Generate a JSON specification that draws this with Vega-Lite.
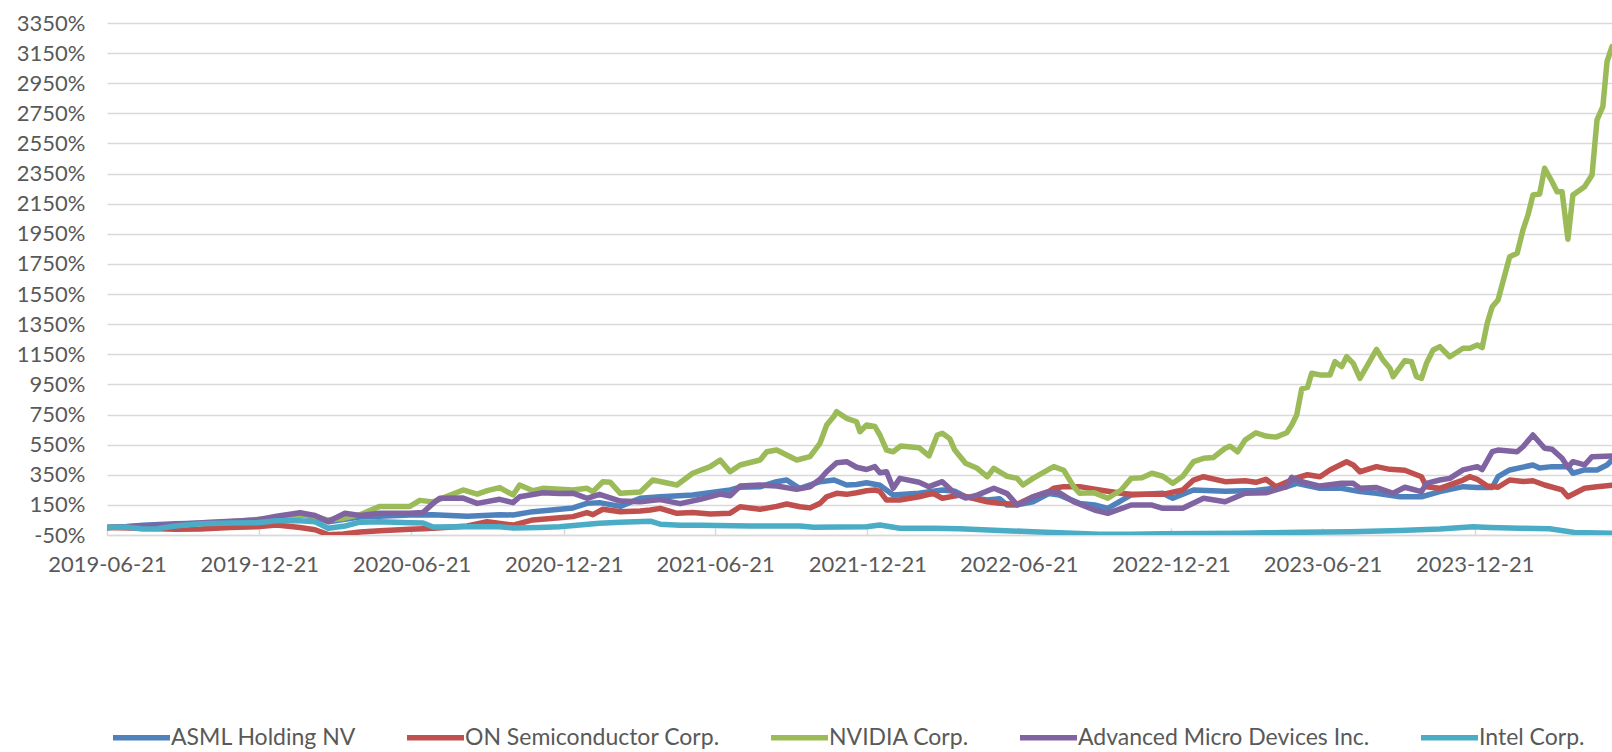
{
"$schema":"https://vega.github.io/schema/vega-lite/v6.json",
"width":1505,"height":512,
"autosize":{"type":"none"},
"padding":{"left":107,"top":23,"right":0,"bottom":217},
"background":"white",
"config":{"view":{"stroke":null},"font":"Lato"},
"data":{"values":[
{"date":"2019-06-21","series":"ASML Holding NV","value":0},
{"date":"2019-07-13","series":"ASML Holding NV","value":5},
{"date":"2019-08-03","series":"ASML Holding NV","value":15},
{"date":"2019-09-11","series":"ASML Holding NV","value":25},
{"date":"2019-10-23","series":"ASML Holding NV","value":30},
{"date":"2019-12-01","series":"ASML Holding NV","value":35},
{"date":"2020-01-11","series":"ASML Holding NV","value":60},
{"date":"2020-02-08","series":"ASML Holding NV","value":85},
{"date":"2020-02-26","series":"ASML Holding NV","value":70},
{"date":"2020-03-13","series":"ASML Holding NV","value":38},
{"date":"2020-04-02","series":"ASML Holding NV","value":55},
{"date":"2020-04-20","series":"ASML Holding NV","value":70},
{"date":"2020-06-19","series":"ASML Holding NV","value":83},
{"date":"2020-07-17","series":"ASML Holding NV","value":85},
{"date":"2020-08-27","series":"ASML Holding NV","value":75},
{"date":"2020-10-05","series":"ASML Holding NV","value":85},
{"date":"2020-10-21","series":"ASML Holding NV","value":83},
{"date":"2020-11-14","series":"ASML Holding NV","value":105},
{"date":"2021-01-01","series":"ASML Holding NV","value":130},
{"date":"2021-01-18","series":"ASML Holding NV","value":160},
{"date":"2021-02-02","series":"ASML Holding NV","value":165},
{"date":"2021-02-27","series":"ASML Holding NV","value":140},
{"date":"2021-03-23","series":"ASML Holding NV","value":194},
{"date":"2021-04-16","series":"ASML Holding NV","value":204},
{"date":"2021-05-25","series":"ASML Holding NV","value":216},
{"date":"2021-07-09","series":"ASML Holding NV","value":249},
{"date":"2021-07-21","series":"ASML Holding NV","value":267},
{"date":"2021-08-14","series":"ASML Holding NV","value":270},
{"date":"2021-09-03","series":"ASML Holding NV","value":304},
{"date":"2021-09-15","series":"ASML Holding NV","value":315},
{"date":"2021-09-27","series":"ASML Holding NV","value":271},
{"date":"2021-10-01","series":"ASML Holding NV","value":260},
{"date":"2021-10-25","series":"ASML Holding NV","value":304},
{"date":"2021-11-11","series":"ASML Holding NV","value":315},
{"date":"2021-11-26","series":"ASML Holding NV","value":282},
{"date":"2021-12-08","series":"ASML Holding NV","value":285},
{"date":"2021-12-20","series":"ASML Holding NV","value":297},
{"date":"2022-01-05","series":"ASML Holding NV","value":280},
{"date":"2022-01-21","series":"ASML Holding NV","value":216},
{"date":"2022-02-21","series":"ASML Holding NV","value":227},
{"date":"2022-03-21","series":"ASML Holding NV","value":249},
{"date":"2022-04-05","series":"ASML Holding NV","value":240},
{"date":"2022-04-18","series":"ASML Holding NV","value":204},
{"date":"2022-05-14","series":"ASML Holding NV","value":182},
{"date":"2022-05-29","series":"ASML Holding NV","value":190},
{"date":"2022-06-07","series":"ASML Holding NV","value":149},
{"date":"2022-06-19","series":"ASML Holding NV","value":150},
{"date":"2022-07-08","series":"ASML Holding NV","value":171},
{"date":"2022-07-27","series":"ASML Holding NV","value":225},
{"date":"2022-08-09","series":"ASML Holding NV","value":215},
{"date":"2022-09-02","series":"ASML Holding NV","value":160},
{"date":"2022-09-20","series":"ASML Holding NV","value":150},
{"date":"2022-10-06","series":"ASML Holding NV","value":127},
{"date":"2022-11-03","series":"ASML Holding NV","value":216},
{"date":"2022-12-11","series":"ASML Holding NV","value":227},
{"date":"2022-12-23","series":"ASML Holding NV","value":194},
{"date":"2023-01-17","series":"ASML Holding NV","value":249},
{"date":"2023-02-24","series":"ASML Holding NV","value":240},
{"date":"2023-04-02","series":"ASML Holding NV","value":245},
{"date":"2023-05-09","series":"ASML Holding NV","value":271},
{"date":"2023-05-21","series":"ASML Holding NV","value":293},
{"date":"2023-06-18","series":"ASML Holding NV","value":260},
{"date":"2023-07-14","series":"ASML Holding NV","value":260},
{"date":"2023-08-05","series":"ASML Holding NV","value":238},
{"date":"2023-08-25","series":"ASML Holding NV","value":227},
{"date":"2023-09-22","series":"ASML Holding NV","value":204},
{"date":"2023-10-18","series":"ASML Holding NV","value":204},
{"date":"2023-11-09","series":"ASML Holding NV","value":238},
{"date":"2023-12-07","series":"ASML Holding NV","value":271},
{"date":"2023-12-24","series":"ASML Holding NV","value":265},
{"date":"2024-01-11","series":"ASML Holding NV","value":265},
{"date":"2024-01-18","series":"ASML Holding NV","value":337},
{"date":"2024-02-01","series":"ASML Holding NV","value":382},
{"date":"2024-02-29","series":"ASML Holding NV","value":415},
{"date":"2024-03-08","series":"ASML Holding NV","value":395},
{"date":"2024-03-23","series":"ASML Holding NV","value":404},
{"date":"2024-04-11","series":"ASML Holding NV","value":404},
{"date":"2024-04-17","series":"ASML Holding NV","value":360},
{"date":"2024-05-01","series":"ASML Holding NV","value":382},
{"date":"2024-05-16","series":"ASML Holding NV","value":382},
{"date":"2024-05-28","series":"ASML Holding NV","value":415},
{"date":"2024-06-03","series":"ASML Holding NV","value":448},
{"date":"2019-06-21","series":"ON Semiconductor Corp.","value":0},
{"date":"2019-08-03","series":"ON Semiconductor Corp.","value":-5},
{"date":"2019-09-11","series":"ON Semiconductor Corp.","value":-12},
{"date":"2019-10-11","series":"ON Semiconductor Corp.","value":-10},
{"date":"2019-11-16","series":"ON Semiconductor Corp.","value":0},
{"date":"2019-12-18","series":"ON Semiconductor Corp.","value":5},
{"date":"2020-01-11","series":"ON Semiconductor Corp.","value":16},
{"date":"2020-02-08","series":"ON Semiconductor Corp.","value":0},
{"date":"2020-02-26","series":"ON Semiconductor Corp.","value":-15},
{"date":"2020-03-13","series":"ON Semiconductor Corp.","value":-48},
{"date":"2020-03-31","series":"ON Semiconductor Corp.","value":-43},
{"date":"2020-04-20","series":"ON Semiconductor Corp.","value":-30},
{"date":"2020-05-14","series":"ON Semiconductor Corp.","value":-21},
{"date":"2020-06-19","series":"ON Semiconductor Corp.","value":-12},
{"date":"2020-07-05","series":"ON Semiconductor Corp.","value":-8},
{"date":"2020-07-17","series":"ON Semiconductor Corp.","value":-5},
{"date":"2020-08-27","series":"ON Semiconductor Corp.","value":10},
{"date":"2020-09-20","series":"ON Semiconductor Corp.","value":38},
{"date":"2020-10-21","series":"ON Semiconductor Corp.","value":16},
{"date":"2020-11-14","series":"ON Semiconductor Corp.","value":50},
{"date":"2020-12-16","series":"ON Semiconductor Corp.","value":65},
{"date":"2021-01-01","series":"ON Semiconductor Corp.","value":72},
{"date":"2021-01-18","series":"ON Semiconductor Corp.","value":98},
{"date":"2021-01-25","series":"ON Semiconductor Corp.","value":85},
{"date":"2021-02-06","series":"ON Semiconductor Corp.","value":121},
{"date":"2021-02-27","series":"ON Semiconductor Corp.","value":105},
{"date":"2021-03-23","series":"ON Semiconductor Corp.","value":110},
{"date":"2021-04-04","series":"ON Semiconductor Corp.","value":116},
{"date":"2021-04-16","series":"ON Semiconductor Corp.","value":127},
{"date":"2021-05-06","series":"ON Semiconductor Corp.","value":94},
{"date":"2021-05-25","series":"ON Semiconductor Corp.","value":100},
{"date":"2021-06-15","series":"ON Semiconductor Corp.","value":89},
{"date":"2021-07-09","series":"ON Semiconductor Corp.","value":95},
{"date":"2021-07-21","series":"ON Semiconductor Corp.","value":138},
{"date":"2021-08-14","series":"ON Semiconductor Corp.","value":121},
{"date":"2021-09-03","series":"ON Semiconductor Corp.","value":140},
{"date":"2021-09-15","series":"ON Semiconductor Corp.","value":156},
{"date":"2021-10-01","series":"ON Semiconductor Corp.","value":138},
{"date":"2021-10-13","series":"ON Semiconductor Corp.","value":130},
{"date":"2021-10-25","series":"ON Semiconductor Corp.","value":160},
{"date":"2021-11-02","series":"ON Semiconductor Corp.","value":204},
{"date":"2021-11-14","series":"ON Semiconductor Corp.","value":227},
{"date":"2021-11-26","series":"ON Semiconductor Corp.","value":220},
{"date":"2021-12-08","series":"ON Semiconductor Corp.","value":231},
{"date":"2021-12-20","series":"ON Semiconductor Corp.","value":244},
{"date":"2021-12-30","series":"ON Semiconductor Corp.","value":249},
{"date":"2022-01-05","series":"ON Semiconductor Corp.","value":240},
{"date":"2022-01-13","series":"ON Semiconductor Corp.","value":182},
{"date":"2022-01-29","series":"ON Semiconductor Corp.","value":182},
{"date":"2022-02-21","series":"ON Semiconductor Corp.","value":204},
{"date":"2022-03-10","series":"ON Semiconductor Corp.","value":227},
{"date":"2022-03-21","series":"ON Semiconductor Corp.","value":194},
{"date":"2022-04-11","series":"ON Semiconductor Corp.","value":215},
{"date":"2022-04-18","series":"ON Semiconductor Corp.","value":205},
{"date":"2022-05-14","series":"ON Semiconductor Corp.","value":171},
{"date":"2022-05-29","series":"ON Semiconductor Corp.","value":160},
{"date":"2022-06-19","series":"ON Semiconductor Corp.","value":155},
{"date":"2022-07-08","series":"ON Semiconductor Corp.","value":204},
{"date":"2022-07-27","series":"ON Semiconductor Corp.","value":238},
{"date":"2022-08-02","series":"ON Semiconductor Corp.","value":260},
{"date":"2022-08-14","series":"ON Semiconductor Corp.","value":271},
{"date":"2022-09-02","series":"ON Semiconductor Corp.","value":271},
{"date":"2022-09-26","series":"ON Semiconductor Corp.","value":249},
{"date":"2022-10-22","series":"ON Semiconductor Corp.","value":227},
{"date":"2022-11-03","series":"ON Semiconductor Corp.","value":220},
{"date":"2022-12-11","series":"ON Semiconductor Corp.","value":220},
{"date":"2023-01-04","series":"ON Semiconductor Corp.","value":249},
{"date":"2023-01-17","series":"ON Semiconductor Corp.","value":315},
{"date":"2023-01-29","series":"ON Semiconductor Corp.","value":337},
{"date":"2023-02-24","series":"ON Semiconductor Corp.","value":304},
{"date":"2023-03-20","series":"ON Semiconductor Corp.","value":310},
{"date":"2023-04-02","series":"ON Semiconductor Corp.","value":300},
{"date":"2023-04-14","series":"ON Semiconductor Corp.","value":320},
{"date":"2023-04-26","series":"ON Semiconductor Corp.","value":271},
{"date":"2023-05-21","series":"ON Semiconductor Corp.","value":330},
{"date":"2023-06-03","series":"ON Semiconductor Corp.","value":350},
{"date":"2023-06-18","series":"ON Semiconductor Corp.","value":337},
{"date":"2023-06-30","series":"ON Semiconductor Corp.","value":382},
{"date":"2023-07-20","series":"ON Semiconductor Corp.","value":437},
{"date":"2023-07-28","series":"ON Semiconductor Corp.","value":415},
{"date":"2023-08-05","series":"ON Semiconductor Corp.","value":370},
{"date":"2023-08-25","series":"ON Semiconductor Corp.","value":404},
{"date":"2023-09-10","series":"ON Semiconductor Corp.","value":386},
{"date":"2023-09-28","series":"ON Semiconductor Corp.","value":380},
{"date":"2023-10-18","series":"ON Semiconductor Corp.","value":337},
{"date":"2023-10-24","series":"ON Semiconductor Corp.","value":271},
{"date":"2023-11-09","series":"ON Semiconductor Corp.","value":260},
{"date":"2023-12-07","series":"ON Semiconductor Corp.","value":315},
{"date":"2023-12-15","series":"ON Semiconductor Corp.","value":337},
{"date":"2023-12-24","series":"ON Semiconductor Corp.","value":320},
{"date":"2024-01-05","series":"ON Semiconductor Corp.","value":275},
{"date":"2024-01-18","series":"ON Semiconductor Corp.","value":267},
{"date":"2024-02-01","series":"ON Semiconductor Corp.","value":315},
{"date":"2024-02-17","series":"ON Semiconductor Corp.","value":305},
{"date":"2024-02-29","series":"ON Semiconductor Corp.","value":310},
{"date":"2024-03-14","series":"ON Semiconductor Corp.","value":282},
{"date":"2024-04-04","series":"ON Semiconductor Corp.","value":249},
{"date":"2024-04-11","series":"ON Semiconductor Corp.","value":204},
{"date":"2024-05-01","series":"ON Semiconductor Corp.","value":260},
{"date":"2024-05-16","series":"ON Semiconductor Corp.","value":271},
{"date":"2024-06-03","series":"ON Semiconductor Corp.","value":280},
{"date":"2019-06-21","series":"NVIDIA Corp.","value":0},
{"date":"2019-08-03","series":"NVIDIA Corp.","value":5},
{"date":"2019-09-11","series":"NVIDIA Corp.","value":15},
{"date":"2019-10-23","series":"NVIDIA Corp.","value":30},
{"date":"2019-12-01","series":"NVIDIA Corp.","value":45},
{"date":"2020-01-11","series":"NVIDIA Corp.","value":65},
{"date":"2020-02-08","series":"NVIDIA Corp.","value":85},
{"date":"2020-02-26","series":"NVIDIA Corp.","value":75},
{"date":"2020-03-11","series":"NVIDIA Corp.","value":50},
{"date":"2020-03-31","series":"NVIDIA Corp.","value":60},
{"date":"2020-04-20","series":"NVIDIA Corp.","value":85},
{"date":"2020-05-14","series":"NVIDIA Corp.","value":140},
{"date":"2020-06-19","series":"NVIDIA Corp.","value":140},
{"date":"2020-07-01","series":"NVIDIA Corp.","value":180},
{"date":"2020-07-17","series":"NVIDIA Corp.","value":170},
{"date":"2020-08-22","series":"NVIDIA Corp.","value":249},
{"date":"2020-09-08","series":"NVIDIA Corp.","value":222},
{"date":"2020-09-20","series":"NVIDIA Corp.","value":245},
{"date":"2020-10-05","series":"NVIDIA Corp.","value":265},
{"date":"2020-10-21","series":"NVIDIA Corp.","value":216},
{"date":"2020-10-29","series":"NVIDIA Corp.","value":282},
{"date":"2020-11-14","series":"NVIDIA Corp.","value":244},
{"date":"2020-11-26","series":"NVIDIA Corp.","value":260},
{"date":"2021-01-01","series":"NVIDIA Corp.","value":249},
{"date":"2021-01-18","series":"NVIDIA Corp.","value":260},
{"date":"2021-01-25","series":"NVIDIA Corp.","value":238},
{"date":"2021-02-06","series":"NVIDIA Corp.","value":304},
{"date":"2021-02-15","series":"NVIDIA Corp.","value":300},
{"date":"2021-02-27","series":"NVIDIA Corp.","value":227},
{"date":"2021-03-23","series":"NVIDIA Corp.","value":235},
{"date":"2021-04-07","series":"NVIDIA Corp.","value":315},
{"date":"2021-05-06","series":"NVIDIA Corp.","value":282},
{"date":"2021-05-25","series":"NVIDIA Corp.","value":360},
{"date":"2021-06-15","series":"NVIDIA Corp.","value":404},
{"date":"2021-06-27","series":"NVIDIA Corp.","value":448},
{"date":"2021-07-09","series":"NVIDIA Corp.","value":370},
{"date":"2021-07-21","series":"NVIDIA Corp.","value":415},
{"date":"2021-08-14","series":"NVIDIA Corp.","value":448},
{"date":"2021-08-22","series":"NVIDIA Corp.","value":503},
{"date":"2021-09-03","series":"NVIDIA Corp.","value":514},
{"date":"2021-09-15","series":"NVIDIA Corp.","value":481},
{"date":"2021-09-27","series":"NVIDIA Corp.","value":448},
{"date":"2021-10-13","series":"NVIDIA Corp.","value":470},
{"date":"2021-10-25","series":"NVIDIA Corp.","value":559},
{"date":"2021-11-02","series":"NVIDIA Corp.","value":680},
{"date":"2021-11-11","series":"NVIDIA Corp.","value":740},
{"date":"2021-11-14","series":"NVIDIA Corp.","value":769},
{"date":"2021-11-26","series":"NVIDIA Corp.","value":725},
{"date":"2021-12-08","series":"NVIDIA Corp.","value":702},
{"date":"2021-12-12","series":"NVIDIA Corp.","value":636},
{"date":"2021-12-20","series":"NVIDIA Corp.","value":680},
{"date":"2021-12-30","series":"NVIDIA Corp.","value":670},
{"date":"2022-01-05","series":"NVIDIA Corp.","value":614},
{"date":"2022-01-13","series":"NVIDIA Corp.","value":514},
{"date":"2022-01-21","series":"NVIDIA Corp.","value":503},
{"date":"2022-01-30","series":"NVIDIA Corp.","value":541},
{"date":"2022-02-21","series":"NVIDIA Corp.","value":530},
{"date":"2022-03-05","series":"NVIDIA Corp.","value":475},
{"date":"2022-03-15","series":"NVIDIA Corp.","value":614},
{"date":"2022-03-21","series":"NVIDIA Corp.","value":625},
{"date":"2022-03-30","series":"NVIDIA Corp.","value":590},
{"date":"2022-04-05","series":"NVIDIA Corp.","value":514},
{"date":"2022-04-18","series":"NVIDIA Corp.","value":426},
{"date":"2022-05-02","series":"NVIDIA Corp.","value":393},
{"date":"2022-05-14","series":"NVIDIA Corp.","value":337},
{"date":"2022-05-22","series":"NVIDIA Corp.","value":393},
{"date":"2022-06-07","series":"NVIDIA Corp.","value":340},
{"date":"2022-06-19","series":"NVIDIA Corp.","value":326},
{"date":"2022-06-26","series":"NVIDIA Corp.","value":282},
{"date":"2022-07-08","series":"NVIDIA Corp.","value":326},
{"date":"2022-07-27","series":"NVIDIA Corp.","value":386},
{"date":"2022-08-02","series":"NVIDIA Corp.","value":404},
{"date":"2022-08-14","series":"NVIDIA Corp.","value":380},
{"date":"2022-08-26","series":"NVIDIA Corp.","value":271},
{"date":"2022-09-02","series":"NVIDIA Corp.","value":227},
{"date":"2022-09-20","series":"NVIDIA Corp.","value":230},
{"date":"2022-10-06","series":"NVIDIA Corp.","value":194},
{"date":"2022-10-22","series":"NVIDIA Corp.","value":249},
{"date":"2022-11-03","series":"NVIDIA Corp.","value":326},
{"date":"2022-11-16","series":"NVIDIA Corp.","value":330},
{"date":"2022-11-28","series":"NVIDIA Corp.","value":360},
{"date":"2022-12-11","series":"NVIDIA Corp.","value":340},
{"date":"2022-12-23","series":"NVIDIA Corp.","value":293},
{"date":"2023-01-04","series":"NVIDIA Corp.","value":340},
{"date":"2023-01-17","series":"NVIDIA Corp.","value":437},
{"date":"2023-01-29","series":"NVIDIA Corp.","value":459},
{"date":"2023-02-10","series":"NVIDIA Corp.","value":465},
{"date":"2023-02-24","series":"NVIDIA Corp.","value":526},
{"date":"2023-03-02","series":"NVIDIA Corp.","value":540},
{"date":"2023-03-11","series":"NVIDIA Corp.","value":503},
{"date":"2023-03-20","series":"NVIDIA Corp.","value":581},
{"date":"2023-04-02","series":"NVIDIA Corp.","value":629},
{"date":"2023-04-14","series":"NVIDIA Corp.","value":607},
{"date":"2023-04-26","series":"NVIDIA Corp.","value":600},
{"date":"2023-05-09","series":"NVIDIA Corp.","value":629},
{"date":"2023-05-15","series":"NVIDIA Corp.","value":680},
{"date":"2023-05-21","series":"NVIDIA Corp.","value":747},
{"date":"2023-05-27","series":"NVIDIA Corp.","value":920},
{"date":"2023-06-03","series":"NVIDIA Corp.","value":930},
{"date":"2023-06-08","series":"NVIDIA Corp.","value":1024},
{"date":"2023-06-18","series":"NVIDIA Corp.","value":1013},
{"date":"2023-06-30","series":"NVIDIA Corp.","value":1013},
{"date":"2023-07-06","series":"NVIDIA Corp.","value":1101},
{"date":"2023-07-14","series":"NVIDIA Corp.","value":1068},
{"date":"2023-07-20","series":"NVIDIA Corp.","value":1134},
{"date":"2023-07-28","series":"NVIDIA Corp.","value":1090},
{"date":"2023-08-05","series":"NVIDIA Corp.","value":990},
{"date":"2023-08-25","series":"NVIDIA Corp.","value":1183},
{"date":"2023-09-02","series":"NVIDIA Corp.","value":1110},
{"date":"2023-09-10","series":"NVIDIA Corp.","value":1057},
{"date":"2023-09-14","series":"NVIDIA Corp.","value":1001},
{"date":"2023-09-28","series":"NVIDIA Corp.","value":1108},
{"date":"2023-10-06","series":"NVIDIA Corp.","value":1100},
{"date":"2023-10-12","series":"NVIDIA Corp.","value":1001},
{"date":"2023-10-18","series":"NVIDIA Corp.","value":990},
{"date":"2023-10-24","series":"NVIDIA Corp.","value":1090},
{"date":"2023-11-01","series":"NVIDIA Corp.","value":1179},
{"date":"2023-11-09","series":"NVIDIA Corp.","value":1201},
{"date":"2023-11-21","series":"NVIDIA Corp.","value":1134},
{"date":"2023-12-07","series":"NVIDIA Corp.","value":1190},
{"date":"2023-12-15","series":"NVIDIA Corp.","value":1190},
{"date":"2023-12-24","series":"NVIDIA Corp.","value":1212},
{"date":"2023-12-30","series":"NVIDIA Corp.","value":1195},
{"date":"2024-01-05","series":"NVIDIA Corp.","value":1356},
{"date":"2024-01-11","series":"NVIDIA Corp.","value":1466},
{"date":"2024-01-18","series":"NVIDIA Corp.","value":1511},
{"date":"2024-02-01","series":"NVIDIA Corp.","value":1798},
{"date":"2024-02-10","series":"NVIDIA Corp.","value":1821},
{"date":"2024-02-17","series":"NVIDIA Corp.","value":1976},
{"date":"2024-02-23","series":"NVIDIA Corp.","value":2075},
{"date":"2024-02-29","series":"NVIDIA Corp.","value":2208},
{"date":"2024-03-08","series":"NVIDIA Corp.","value":2215},
{"date":"2024-03-14","series":"NVIDIA Corp.","value":2385},
{"date":"2024-03-23","series":"NVIDIA Corp.","value":2296},
{"date":"2024-03-29","series":"NVIDIA Corp.","value":2230},
{"date":"2024-04-04","series":"NVIDIA Corp.","value":2230},
{"date":"2024-04-11","series":"NVIDIA Corp.","value":1914},
{"date":"2024-04-17","series":"NVIDIA Corp.","value":2208},
{"date":"2024-05-01","series":"NVIDIA Corp.","value":2263},
{"date":"2024-05-10","series":"NVIDIA Corp.","value":2341},
{"date":"2024-05-16","series":"NVIDIA Corp.","value":2706},
{"date":"2024-05-23","series":"NVIDIA Corp.","value":2794},
{"date":"2024-05-28","series":"NVIDIA Corp.","value":3093},
{"date":"2024-06-03","series":"NVIDIA Corp.","value":3193},
{"date":"2019-06-21","series":"Advanced Micro Devices Inc.","value":0},
{"date":"2019-08-03","series":"Advanced Micro Devices Inc.","value":10},
{"date":"2019-09-11","series":"Advanced Micro Devices Inc.","value":20},
{"date":"2019-10-23","series":"Advanced Micro Devices Inc.","value":35},
{"date":"2019-12-01","series":"Advanced Micro Devices Inc.","value":45},
{"date":"2019-12-18","series":"Advanced Micro Devices Inc.","value":50},
{"date":"2020-01-11","series":"Advanced Micro Devices Inc.","value":75},
{"date":"2020-02-08","series":"Advanced Micro Devices Inc.","value":98},
{"date":"2020-02-26","series":"Advanced Micro Devices Inc.","value":80},
{"date":"2020-03-13","series":"Advanced Micro Devices Inc.","value":40},
{"date":"2020-04-02","series":"Advanced Micro Devices Inc.","value":94},
{"date":"2020-04-20","series":"Advanced Micro Devices Inc.","value":80},
{"date":"2020-05-14","series":"Advanced Micro Devices Inc.","value":95},
{"date":"2020-06-19","series":"Advanced Micro Devices Inc.","value":95},
{"date":"2020-07-05","series":"Advanced Micro Devices Inc.","value":100},
{"date":"2020-07-17","series":"Advanced Micro Devices Inc.","value":160},
{"date":"2020-07-25","series":"Advanced Micro Devices Inc.","value":194},
{"date":"2020-08-22","series":"Advanced Micro Devices Inc.","value":195},
{"date":"2020-09-08","series":"Advanced Micro Devices Inc.","value":160},
{"date":"2020-10-05","series":"Advanced Micro Devices Inc.","value":187},
{"date":"2020-10-21","series":"Advanced Micro Devices Inc.","value":165},
{"date":"2020-10-29","series":"Advanced Micro Devices Inc.","value":204},
{"date":"2020-11-26","series":"Advanced Micro Devices Inc.","value":231},
{"date":"2020-12-16","series":"Advanced Micro Devices Inc.","value":225},
{"date":"2021-01-01","series":"Advanced Micro Devices Inc.","value":228},
{"date":"2021-01-18","series":"Advanced Micro Devices Inc.","value":194},
{"date":"2021-02-02","series":"Advanced Micro Devices Inc.","value":220},
{"date":"2021-02-27","series":"Advanced Micro Devices Inc.","value":175},
{"date":"2021-03-23","series":"Advanced Micro Devices Inc.","value":170},
{"date":"2021-04-16","series":"Advanced Micro Devices Inc.","value":185},
{"date":"2021-05-10","series":"Advanced Micro Devices Inc.","value":158},
{"date":"2021-06-03","series":"Advanced Micro Devices Inc.","value":187},
{"date":"2021-06-27","series":"Advanced Micro Devices Inc.","value":222},
{"date":"2021-07-09","series":"Advanced Micro Devices Inc.","value":210},
{"date":"2021-07-21","series":"Advanced Micro Devices Inc.","value":275},
{"date":"2021-08-14","series":"Advanced Micro Devices Inc.","value":282},
{"date":"2021-09-03","series":"Advanced Micro Devices Inc.","value":275},
{"date":"2021-09-27","series":"Advanced Micro Devices Inc.","value":253},
{"date":"2021-10-13","series":"Advanced Micro Devices Inc.","value":270},
{"date":"2021-10-25","series":"Advanced Micro Devices Inc.","value":320},
{"date":"2021-11-02","series":"Advanced Micro Devices Inc.","value":370},
{"date":"2021-11-14","series":"Advanced Micro Devices Inc.","value":430},
{"date":"2021-11-26","series":"Advanced Micro Devices Inc.","value":437},
{"date":"2021-12-08","series":"Advanced Micro Devices Inc.","value":400},
{"date":"2021-12-20","series":"Advanced Micro Devices Inc.","value":385},
{"date":"2021-12-30","series":"Advanced Micro Devices Inc.","value":404},
{"date":"2022-01-05","series":"Advanced Micro Devices Inc.","value":364},
{"date":"2022-01-13","series":"Advanced Micro Devices Inc.","value":370},
{"date":"2022-01-21","series":"Advanced Micro Devices Inc.","value":260},
{"date":"2022-01-29","series":"Advanced Micro Devices Inc.","value":326},
{"date":"2022-02-21","series":"Advanced Micro Devices Inc.","value":300},
{"date":"2022-03-05","series":"Advanced Micro Devices Inc.","value":271},
{"date":"2022-03-21","series":"Advanced Micro Devices Inc.","value":304},
{"date":"2022-04-05","series":"Advanced Micro Devices Inc.","value":227},
{"date":"2022-04-18","series":"Advanced Micro Devices Inc.","value":195},
{"date":"2022-05-02","series":"Advanced Micro Devices Inc.","value":215},
{"date":"2022-05-22","series":"Advanced Micro Devices Inc.","value":260},
{"date":"2022-06-07","series":"Advanced Micro Devices Inc.","value":225},
{"date":"2022-06-19","series":"Advanced Micro Devices Inc.","value":149},
{"date":"2022-06-26","series":"Advanced Micro Devices Inc.","value":165},
{"date":"2022-07-08","series":"Advanced Micro Devices Inc.","value":204},
{"date":"2022-07-27","series":"Advanced Micro Devices Inc.","value":238},
{"date":"2022-08-09","series":"Advanced Micro Devices Inc.","value":230},
{"date":"2022-08-26","series":"Advanced Micro Devices Inc.","value":171},
{"date":"2022-09-20","series":"Advanced Micro Devices Inc.","value":116},
{"date":"2022-10-06","series":"Advanced Micro Devices Inc.","value":94},
{"date":"2022-11-03","series":"Advanced Micro Devices Inc.","value":149},
{"date":"2022-11-28","series":"Advanced Micro Devices Inc.","value":149},
{"date":"2022-12-11","series":"Advanced Micro Devices Inc.","value":127},
{"date":"2023-01-04","series":"Advanced Micro Devices Inc.","value":127},
{"date":"2023-01-29","series":"Advanced Micro Devices Inc.","value":194},
{"date":"2023-02-24","series":"Advanced Micro Devices Inc.","value":171},
{"date":"2023-03-20","series":"Advanced Micro Devices Inc.","value":227},
{"date":"2023-04-14","series":"Advanced Micro Devices Inc.","value":230},
{"date":"2023-05-09","series":"Advanced Micro Devices Inc.","value":271},
{"date":"2023-05-15","series":"Advanced Micro Devices Inc.","value":333},
{"date":"2023-05-27","series":"Advanced Micro Devices Inc.","value":304},
{"date":"2023-06-18","series":"Advanced Micro Devices Inc.","value":275},
{"date":"2023-07-14","series":"Advanced Micro Devices Inc.","value":293},
{"date":"2023-07-28","series":"Advanced Micro Devices Inc.","value":293},
{"date":"2023-08-05","series":"Advanced Micro Devices Inc.","value":260},
{"date":"2023-08-25","series":"Advanced Micro Devices Inc.","value":265},
{"date":"2023-09-14","series":"Advanced Micro Devices Inc.","value":227},
{"date":"2023-09-28","series":"Advanced Micro Devices Inc.","value":267},
{"date":"2023-10-18","series":"Advanced Micro Devices Inc.","value":238},
{"date":"2023-10-24","series":"Advanced Micro Devices Inc.","value":293},
{"date":"2023-11-09","series":"Advanced Micro Devices Inc.","value":315},
{"date":"2023-11-21","series":"Advanced Micro Devices Inc.","value":326},
{"date":"2023-12-07","series":"Advanced Micro Devices Inc.","value":382},
{"date":"2023-12-24","series":"Advanced Micro Devices Inc.","value":404},
{"date":"2023-12-30","series":"Advanced Micro Devices Inc.","value":385},
{"date":"2024-01-11","series":"Advanced Micro Devices Inc.","value":503},
{"date":"2024-01-18","series":"Advanced Micro Devices Inc.","value":514},
{"date":"2024-02-10","series":"Advanced Micro Devices Inc.","value":503},
{"date":"2024-02-17","series":"Advanced Micro Devices Inc.","value":536},
{"date":"2024-02-29","series":"Advanced Micro Devices Inc.","value":614},
{"date":"2024-03-14","series":"Advanced Micro Devices Inc.","value":526},
{"date":"2024-03-23","series":"Advanced Micro Devices Inc.","value":520},
{"date":"2024-04-04","series":"Advanced Micro Devices Inc.","value":459},
{"date":"2024-04-11","series":"Advanced Micro Devices Inc.","value":400},
{"date":"2024-04-17","series":"Advanced Micro Devices Inc.","value":437},
{"date":"2024-05-01","series":"Advanced Micro Devices Inc.","value":415},
{"date":"2024-05-10","series":"Advanced Micro Devices Inc.","value":470},
{"date":"2024-06-03","series":"Advanced Micro Devices Inc.","value":475},
{"date":"2019-06-21","series":"Intel Corp.","value":0},
{"date":"2019-07-13","series":"Intel Corp.","value":3},
{"date":"2019-08-03","series":"Intel Corp.","value":-10},
{"date":"2019-08-20","series":"Intel Corp.","value":-8},
{"date":"2019-09-11","series":"Intel Corp.","value":10},
{"date":"2019-10-11","series":"Intel Corp.","value":25},
{"date":"2019-11-16","series":"Intel Corp.","value":30},
{"date":"2019-12-18","series":"Intel Corp.","value":32},
{"date":"2020-01-11","series":"Intel Corp.","value":45},
{"date":"2020-02-08","series":"Intel Corp.","value":45},
{"date":"2020-02-26","series":"Intel Corp.","value":38},
{"date":"2020-03-13","series":"Intel Corp.","value":-5},
{"date":"2020-04-02","series":"Intel Corp.","value":10},
{"date":"2020-04-20","series":"Intel Corp.","value":35},
{"date":"2020-05-14","series":"Intel Corp.","value":38},
{"date":"2020-06-19","series":"Intel Corp.","value":32},
{"date":"2020-07-05","series":"Intel Corp.","value":30},
{"date":"2020-07-17","series":"Intel Corp.","value":3},
{"date":"2020-08-27","series":"Intel Corp.","value":5},
{"date":"2020-10-05","series":"Intel Corp.","value":5},
{"date":"2020-10-21","series":"Intel Corp.","value":-3},
{"date":"2020-11-22","series":"Intel Corp.","value":0},
{"date":"2020-12-16","series":"Intel Corp.","value":5},
{"date":"2021-02-02","series":"Intel Corp.","value":28},
{"date":"2021-02-27","series":"Intel Corp.","value":35},
{"date":"2021-04-04","series":"Intel Corp.","value":42},
{"date":"2021-04-16","series":"Intel Corp.","value":22},
{"date":"2021-05-10","series":"Intel Corp.","value":15},
{"date":"2021-06-03","series":"Intel Corp.","value":14},
{"date":"2021-08-02","series":"Intel Corp.","value":10},
{"date":"2021-10-01","series":"Intel Corp.","value":10},
{"date":"2021-10-17","series":"Intel Corp.","value":2},
{"date":"2021-11-18","series":"Intel Corp.","value":3},
{"date":"2021-12-20","series":"Intel Corp.","value":5},
{"date":"2022-01-05","series":"Intel Corp.","value":16},
{"date":"2022-01-29","series":"Intel Corp.","value":-5},
{"date":"2022-03-10","series":"Intel Corp.","value":-5},
{"date":"2022-04-11","series":"Intel Corp.","value":-8},
{"date":"2022-05-29","series":"Intel Corp.","value":-20},
{"date":"2022-07-08","series":"Intel Corp.","value":-28},
{"date":"2022-08-09","series":"Intel Corp.","value":-35},
{"date":"2022-09-26","series":"Intel Corp.","value":-45},
{"date":"2022-11-02","series":"Intel Corp.","value":-45},
{"date":"2022-12-10","series":"Intel Corp.","value":-42},
{"date":"2023-01-25","series":"Intel Corp.","value":-40},
{"date":"2023-03-14","series":"Intel Corp.","value":-38},
{"date":"2023-04-14","series":"Intel Corp.","value":-35},
{"date":"2023-05-25","series":"Intel Corp.","value":-32},
{"date":"2023-07-24","series":"Intel Corp.","value":-28},
{"date":"2023-09-22","series":"Intel Corp.","value":-20},
{"date":"2023-11-09","series":"Intel Corp.","value":-10},
{"date":"2023-12-19","series":"Intel Corp.","value":5},
{"date":"2024-01-08","series":"Intel Corp.","value":0},
{"date":"2024-02-13","series":"Intel Corp.","value":-5},
{"date":"2024-03-20","series":"Intel Corp.","value":-8},
{"date":"2024-04-19","series":"Intel Corp.","value":-33},
{"date":"2024-06-03","series":"Intel Corp.","value":-38}
]},
"mark":{"type":"line","strokeWidth":5.5,"strokeJoin":"round","strokeCap":"round","clip":true},
"encoding":{
"x":{"field":"date","type":"temporal",
"scale":{"type":"utc","domain":[{"year":2019,"month":6,"date":21,"utc":true},{"year":2024,"month":6,"date":3,"utc":true}]},
"axis":{"title":null,"format":"%Y-%m-%d","grid":false,
"values":[{"year":2019,"month":6,"date":21,"utc":true},{"year":2019,"month":12,"date":21,"utc":true},{"year":2020,"month":6,"date":21,"utc":true},{"year":2020,"month":12,"date":21,"utc":true},{"year":2021,"month":6,"date":21,"utc":true},{"year":2021,"month":12,"date":21,"utc":true},{"year":2022,"month":6,"date":21,"utc":true},{"year":2022,"month":12,"date":21,"utc":true},{"year":2023,"month":6,"date":21,"utc":true},{"year":2023,"month":12,"date":21,"utc":true}],
"domainColor":"#d9d9d9","domainWidth":1.5,"tickColor":"#d9d9d9","tickWidth":1.5,"tickSize":-7,"labelPadding":26,
"labelFont":"Lato","labelFontSize":22,"labelColor":"#595959","labelFlush":false,"labelOverlap":false,"labelBound":false}},
"y":{"field":"value","type":"quantitative",
"scale":{"domain":[-50,3350],"nice":false,"zero":false},
"axis":{"title":null,"values":[-50,150,350,550,750,950,1150,1350,1550,1750,1950,2150,2350,2550,2750,2950,3150,3350],
"labelExpr":"datum.value + '%'","grid":true,"gridColor":"#d9d9d9","gridWidth":1.5,"domain":false,"ticks":false,"labelPadding":22,
"labelFont":"Lato","labelFontSize":22,"labelColor":"#595959"}},
"color":{"field":"series","type":"nominal",
"scale":{"domain":["ASML Holding NV","ON Semiconductor Corp.","NVIDIA Corp.","Advanced Micro Devices Inc.","Intel Corp."],
"range":["#4F81BD","#C0504D","#9BBB59","#8064A2","#4BACC6"]},
"legend":{"orient":"none","legendX":3,"legendY":683,"direction":"horizontal","title":null,"symbolType":"stroke","symbolSize":3249,"symbolStrokeWidth":5.5,
"labelFont":"Lato","labelFontSize":23,"labelColor":"#595959","columnPadding":40,"labelOffset":-2,"symbolOffset":0,"padding":0,"labelLimit":400}}
}
}
